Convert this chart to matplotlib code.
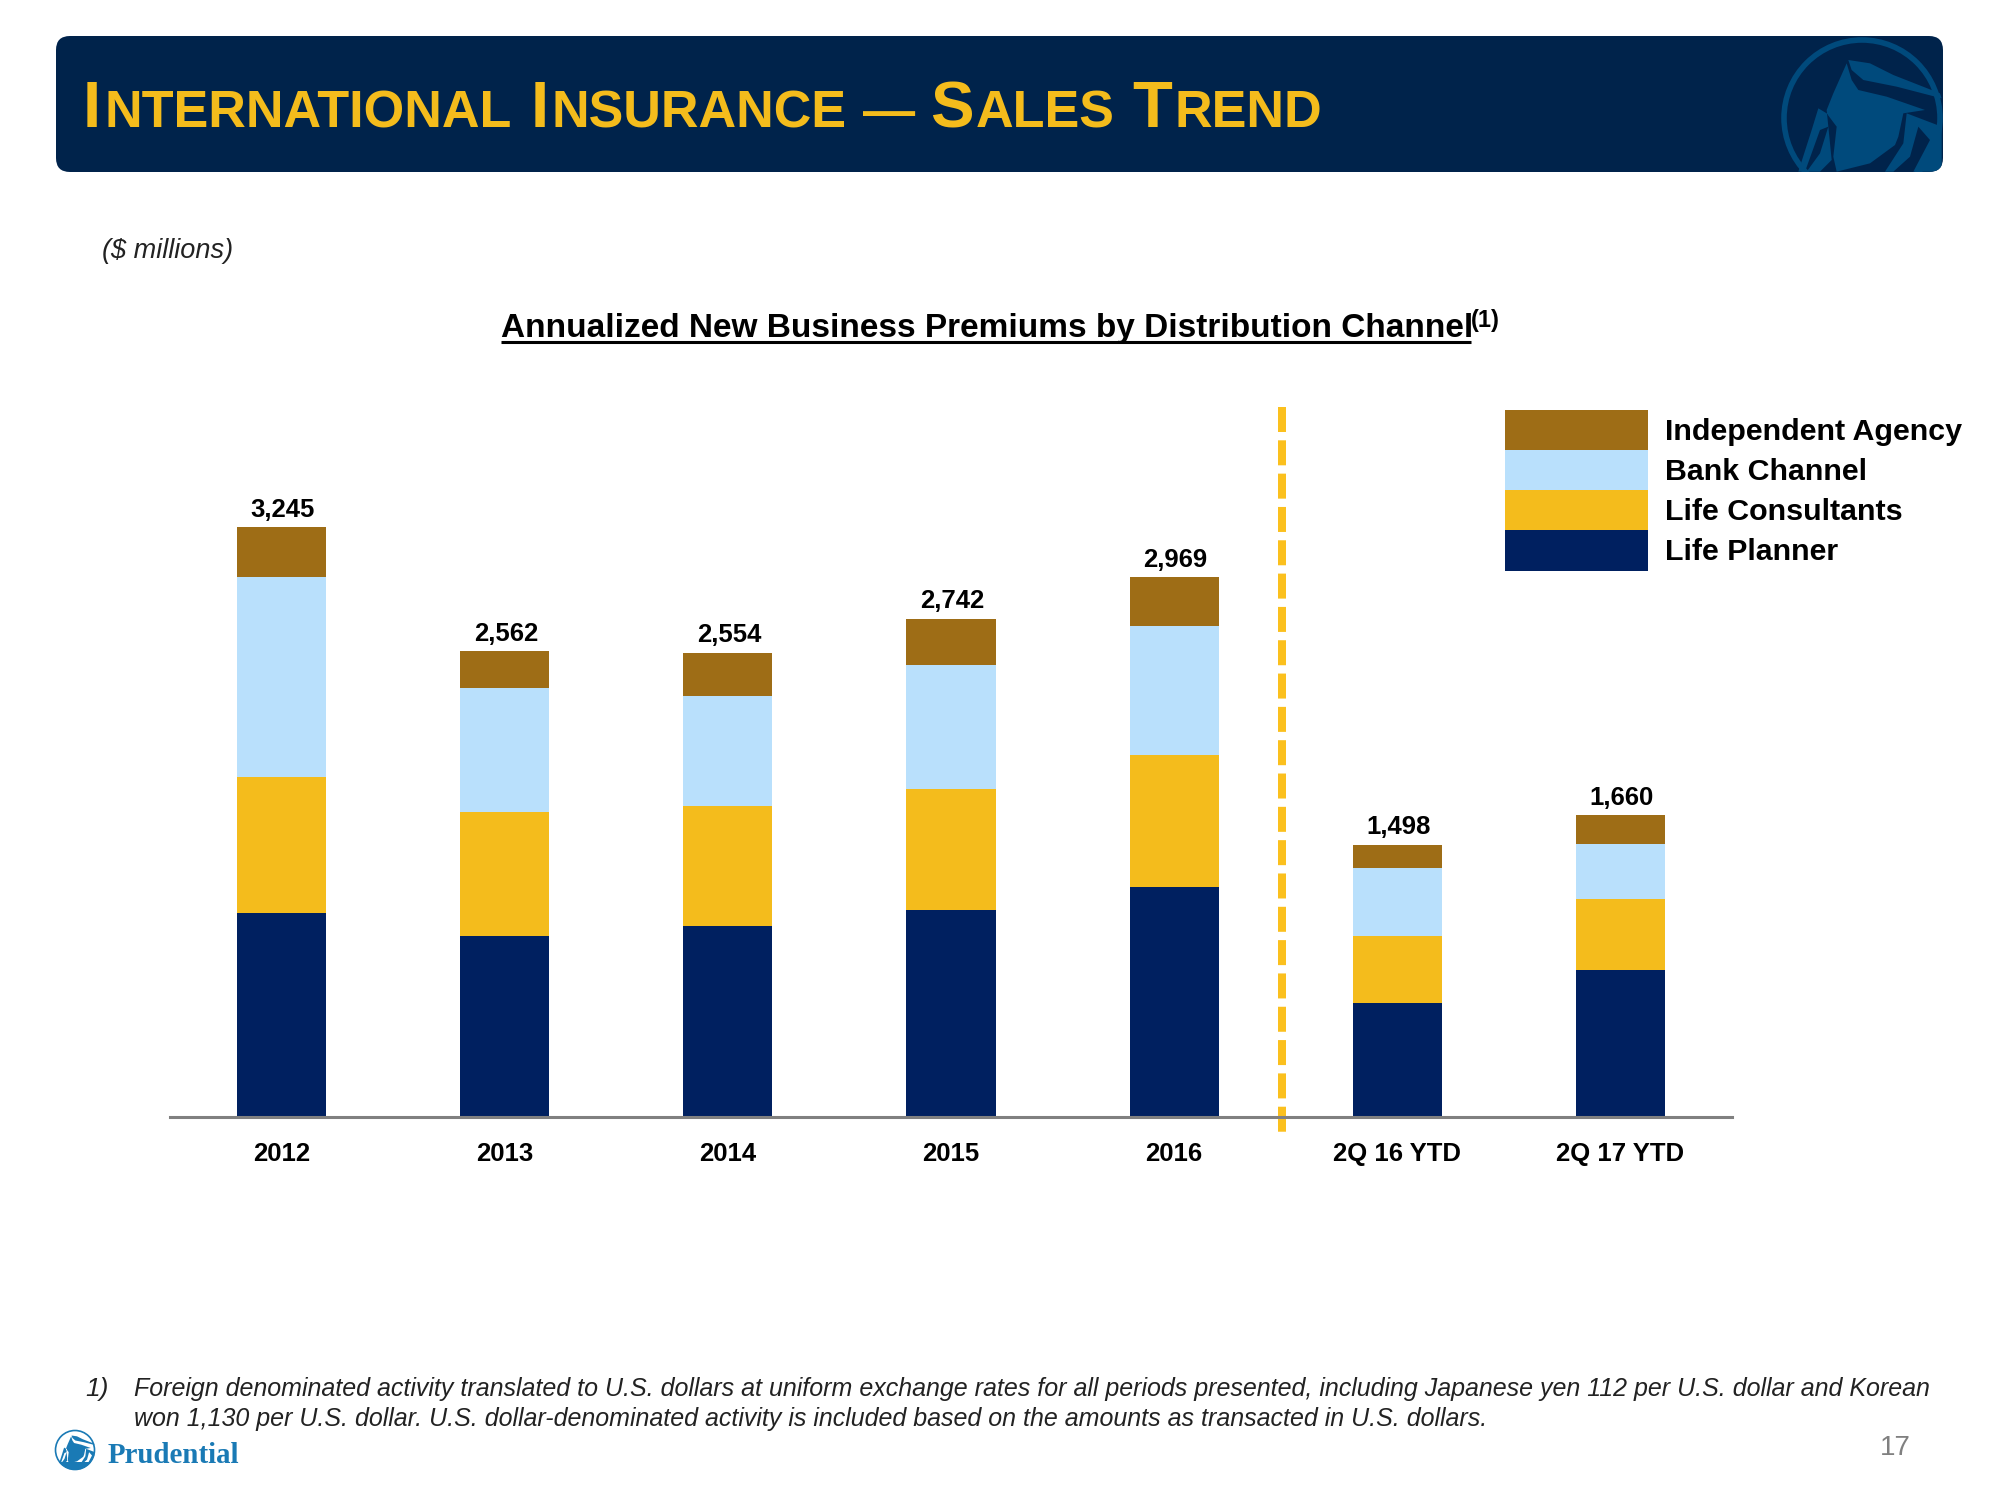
import matplotlib
matplotlib.use("Agg")
import matplotlib.pyplot as plt
from matplotlib.patches import FancyBboxPatch, Circle, Polygon, Rectangle
import numpy as np

plt.rcParams['font.family'] = ['Liberation Sans', 'DejaVu Sans']

# data
years = ["2012", "2013", "2014", "2015", "2016", "2Q 16 YTD", "2Q 17 YTD"]
totals = ["3,245", "2,562", "2,554", "2,742", "2,969", "1,498", "1,660"]
life_planner = [1124, 997, 1053, 1138, 1264, 625, 808]
life_consultants = [744, 681, 660, 667, 730, 372, 393]
bank_channel = [1102, 684, 604, 684, 709, 374, 303]
independent = [275, 200, 237, 253, 266, 127, 156]

NAVY = "#002060"
YELLOW = "#F4BC1C"
LIGHT = "#B9E0FC"
BROWN = "#9E6D16"
HEADER = "#00234B"
RING = "#004A7C"
BLUE = "#1A7AB5"

rock_parts = [
    [(235, 90), (300, 100), (370, 135), (510, 190), (515, 205), (380, 170), (280, 150), (245, 120)],
    [(230, 100), (245, 150), (265, 180), (350, 200), (465, 240), (400, 250), (385, 320), (375, 345),
     (300, 400), (200, 425), (190, 380), (200, 290), (170, 250), (145, 235), (125, 300), (85, 425),
     (105, 425), (150, 300), (175, 290), (150, 370), (110, 425), (150, 425), (185, 390), (170, 240), (190, 190)],
    [(410, 250), (515, 290), (515, 425), (430, 425), (480, 330), (445, 290), (420, 380), (370, 425),
     (345, 425), (400, 340)],
]

fig = plt.figure(figsize=(20, 15), dpi=100)

# overlay in pixel coordinates for the slide furniture
bg = fig.add_axes([0, 0, 1, 1])
bg.set_xlim(0, 2000)
bg.set_ylim(1500, 0)
bg.axis("off")


def draw_logo(cx, cy, scale, color, ring_w, clip):
    ring = Circle((cx, cy), 78 * scale, fc="none", ec=color, lw=ring_w)
    bg.add_patch(ring)
    if clip is not None:
        ring.set_clip_path(clip)
    for part in rock_parts:
        pts = (np.array(part) - [276, 264]) / 3 * scale + [cx, cy]
        p = Polygon(pts, fc=color, ec="none")
        bg.add_patch(p)
        p.set_clip_path(clip if clip is not None else Circle((cx, cy), 80 * scale, transform=bg.transData))


header = FancyBboxPatch((56, 36), 1887, 136, boxstyle="round,pad=0,rounding_size=14",
                        fc=HEADER, ec="none")
bg.add_patch(header)
draw_logo(1862, 118, 1, RING, 4, header)

# small caps title, one piece after the other
title_parts = [("I", 47, 3), ("NTERNATIONAL", 37.5, 19), ("I", 47, 3), ("NSURANCE", 37.5, 16),
               ("\u2014", 37.5, 15), ("S", 47, 2), ("ALES", 37.5, 18), ("T", 47, 2), ("REND", 37.5, 0)]
fig.canvas.draw()
rend = fig.canvas.get_renderer()
x_pos = 83
for part, size, gap in title_parts:
    t = bg.text(x_pos, 127, part, fontsize=size, fontweight="bold", color=YELLOW,
                ha="left", va="baseline")
    x_pos += t.get_window_extent(rend).width + gap

bg.text(102, 251, "($ millions)", fontsize=19.5, style="italic", color="#222222", va="center")

bg.text(501, 328, "Annualized New Business Premiums by Distribution Channel", fontsize=24,
        fontweight="bold", color="black", va="center", ha="left")
bg.plot([501, 1471], [342, 342], color="black", lw=2.2, solid_capstyle="butt")
bg.text(1471, 320, "(1)", fontsize=17, fontweight="bold", color="black", va="center", ha="left")

# footnote
bg.text(85, 1389, "1)", fontsize=19, style="italic", color="#222222", va="center")
bg.text(134, 1389, "Foreign denominated activity translated to U.S. dollars at uniform exchange rates "
        "for all periods presented, including Japanese yen 112 per U.S. dollar and Korean",
        fontsize=18, style="italic", color="#222222", va="center")
bg.text(134, 1419, "won 1,130 per U.S. dollar. U.S. dollar-denominated activity is included based "
        "on the amounts as transacted in U.S. dollars.",
        fontsize=18, style="italic", color="#222222", va="center")

# bottom logo
draw_logo(75, 1450, 0.25, BLUE, 1.2, None)
base = Rectangle((50, 1462), 50, 12, fc=BLUE, ec="none")
bg.add_patch(base)
base.set_clip_path(Circle((75, 1450), 20, transform=bg.transData))
bg.text(108, 1463, "Prudential", fontsize=20.8, fontweight="bold", family=["Liberation Serif"],
        color=BLUE, va="baseline", ha="left")
bg.text(1895, 1448, "17", fontsize=20, color="#808080", va="center", ha="center")

# chart area, baseline at 1117 px
ax = fig.add_axes([170 / 2000, 1 - 1117 / 1500, (1732 - 170) / 2000, 727 / 1500])
ax.patch.set_alpha(0)
x = np.arange(len(years))
width = 0.4
bottom = np.zeros(len(years))
series = [("Life Planner", life_planner, NAVY), ("Life Consultants", life_consultants, YELLOW),
          ("Bank Channel", bank_channel, LIGHT), ("Independent Agency", independent, BROWN)]
for name, vals, col in series:
    ax.bar(x, vals, width, bottom=bottom, color=col, label=name)
    bottom += np.array(vals)

for i, lab in enumerate(totals):
    ax.annotate(lab, (x[i], bottom[i]), xytext=(1, 4), textcoords="offset points", ha="center",
                va="bottom", fontsize=18.5, fontweight="bold")

ax.set_xlim(-0.5, 6.5)
ax.set_ylim(0, 4000)
ax.set_xticks(x, years, fontsize=18.5, fontweight="bold")
ax.set_yticks([])
ax.tick_params(axis="x", length=0, pad=18)
for s in ["top", "left", "right"]:
    ax.spines[s].set_visible(False)
ax.spines["bottom"].set_color("#808080")
ax.spines["bottom"].set_linewidth(2.2)

# dashed divider between years and YTD
ax.plot([4.482, 4.482], [3906, -88], color="#FBC01E", lw=5.76, clip_on=False,
        dashes=(3.125, 1.04), dash_capstyle="butt")

# legend
handles, labels = ax.get_legend_handles_labels()
leg = fig.legend(handles[::-1], labels[::-1], loc="upper left", bbox_to_anchor=(1505 / 2000, 1 - 409.5 / 1500),
                 frameon=False, borderpad=0, borderaxespad=0, labelspacing=0,
                 handlelength=4.7, handleheight=1.66, handletextpad=0.56,
                 prop={"weight": "bold", "size": 21.9})

fig.savefig("out.png", dpi=100)
